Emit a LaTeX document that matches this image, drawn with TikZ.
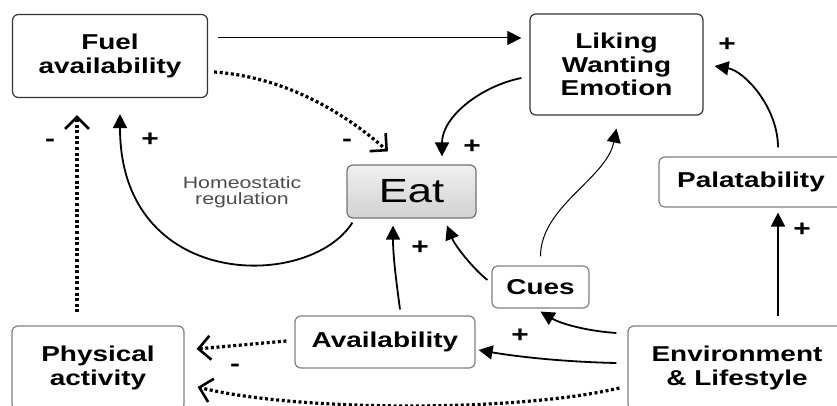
\documentclass[tikz,border=0pt]{standalone}
\usepackage{fontspec}
\setmainfont[FakeStretch=1.3]{Liberation Sans}
\usetikzlibrary{arrows.meta}

\tikzset{
  box/.style={draw=black!50, rounded corners=3pt, line width=0.6pt, align=center,
    inner sep=0pt, font=\bfseries\fontsize{10.75}{11.75}\selectfont},
  darkbox/.style={box, draw=black!80},
  eatbox/.style={box, draw=black!55, top color=black!6, bottom color=black!18,
    font=\fontsize{16.75}{20}\selectfont},
  arr/.style={-{Triangle[length=7pt,width=7pt]}, line width=0.9pt},
  thinarr/.style={arr, line width=0.5pt},
  dotarr/.style={-{Straight Barb[length=6pt,width=12pt,line width=1.3pt]}, line width=1.6pt,
    dash pattern=on 1.5pt off 1.3pt},
  sign/.style={font=\bfseries\fontsize{11.5}{11.5}\selectfont, inner sep=0pt},
}

\begin{document}
\begin{tikzpicture}[x=0.5pt, y=-0.5pt]
  \useasboundingbox (0,0) rectangle (837,406);
  \clip (0,0) rectangle (837,406);
  % BOXES
  \node[darkbox, minimum width=97.5pt, minimum height=41.5pt] (fuel) at (110,56) {Fuel\\availability};
  \node[darkbox, minimum width=86.5pt, minimum height=50.5pt] (liking) at (616.5,64.5) {Liking\\Wanting\\Emotion};
  \node[eatbox, minimum width=64.5pt, minimum height=26.5pt] (eat) at (411.5,191.5) {Eat};
  \node[box, minimum width=92pt, minimum height=25pt] (pal) at (751,182) {Palatability};
  \node[box, minimum width=48.5pt, minimum height=21pt] (cues) at (540.5,287) {Cues};
  \node[box, minimum width=90pt, minimum height=26pt] (avail) at (385,342) {Availability};
  \node[box, minimum width=86pt, minimum height=42pt] (phys) at (98,368) {Physical\\activity};
  \node[box, minimum width=109pt, minimum height=42pt] (env) at (737,368) {Environment\\\&~Lifestyle};
  \node[align=center, text=black!70, font=\fontsize{8.2}{8.2}\selectfont] (homeo) at (242,192) {Homeostatic\\regulation};
  % SOLID ARROWS
  \draw[thinarr] ([shift={(5pt,9pt)}]fuel.east) -- ([shift={(-4pt,13.25pt)}]liking.west);
  \draw[arr] ([shift={(-4pt,-6.75pt)}]liking.west) .. controls +(-40,8) and +(0,-40) .. ([shift={(15.25pt,4pt)}]eat.north);
  \draw[arr] ([shift={(3pt,-2pt)}]eat.south west) .. controls +(-43,68) and +(0,177) .. ([shift={(5pt,-8pt)}]fuel.south);
  \draw[arr] ([shift={(-5.5pt,2.5pt)}]env.west) .. controls +(-50,-1) and +(40,7) .. ([shift={(1.5pt,-4pt)}]avail.east);
  \draw[arr] ([shift={(-5.5pt,17.5pt)}]env.west) .. controls +(-30,-2) and +(20,12) .. ([shift={(0pt,-1.5pt)}]cues.south);
  \draw[arr] ([shift={(-2pt,3.5pt)}]cues.west) .. controls +(-15,-12) and +(8,20) .. ([shift={(17.75pt,-3.5pt)}]eat.south);
  \draw[arr] ([shift={(7.5pt,3pt)}]avail.north) .. controls +(-4,-30) and +(0,30) .. ([shift={(-9.25pt,-3.5pt)}]eat.south);
  \draw[thinarr] ([shift={(0pt,4.5pt)}]cues.north) .. controls +(0,-50) and +(-10,50) .. ([shift={(0pt,-6.5pt)}]liking.south);
  \draw[arr] ([shift={(20.5pt,4.5pt)}]env.north) -- ([shift={(13.5pt,-2.5pt)}]pal.south);
  \draw[arr] ([shift={(13.5pt,4.5pt)}]pal.north) .. controls +(0,-40) and +(30,5) .. ([shift={(5.5pt,-0.75pt)}]liking.east);
  % DOTTED ARROWS
  \draw[dotarr] ([shift={(3pt,-8pt)}]fuel.east) .. controls +(70,5) and +(-45,-40) .. ([shift={(-11.75pt,6.5pt)}]eat.north);
  \draw[dotarr] ([shift={(-10.5pt,6.5pt)}]phys.north) -- ([shift={(-16.5pt,-8.5pt)}]fuel.south);
  \draw[dotarr] ([shift={(-4pt,0.5pt)}]avail.west) -- ([shift={(6pt,9.5pt)}]phys.east);
  \draw[dotarr] ([shift={(-4pt,-10pt)}]env.west) .. controls +(-100,24) and +(100,25) .. ([shift={(6.5pt,-9.5pt)}]phys.east);
  % SIGNS
  \node[sign] (m1) at (347,143) {-};
  \node[sign] (m2) at (50,143) {-};
  \node[sign] (m3) at (235,368) {-};
  \node[sign] (p1) at (472,147) {+};
  \node[sign] (p2) at (150,140) {+};
  \node[sign] (p3) at (520,336) {+};
  \node[sign] (p4) at (420,248) {+};
  \node[sign] (p5) at (802,230) {+};
  \node[sign] (p6) at (727,45) {+};
\end{tikzpicture}
\end{document}
